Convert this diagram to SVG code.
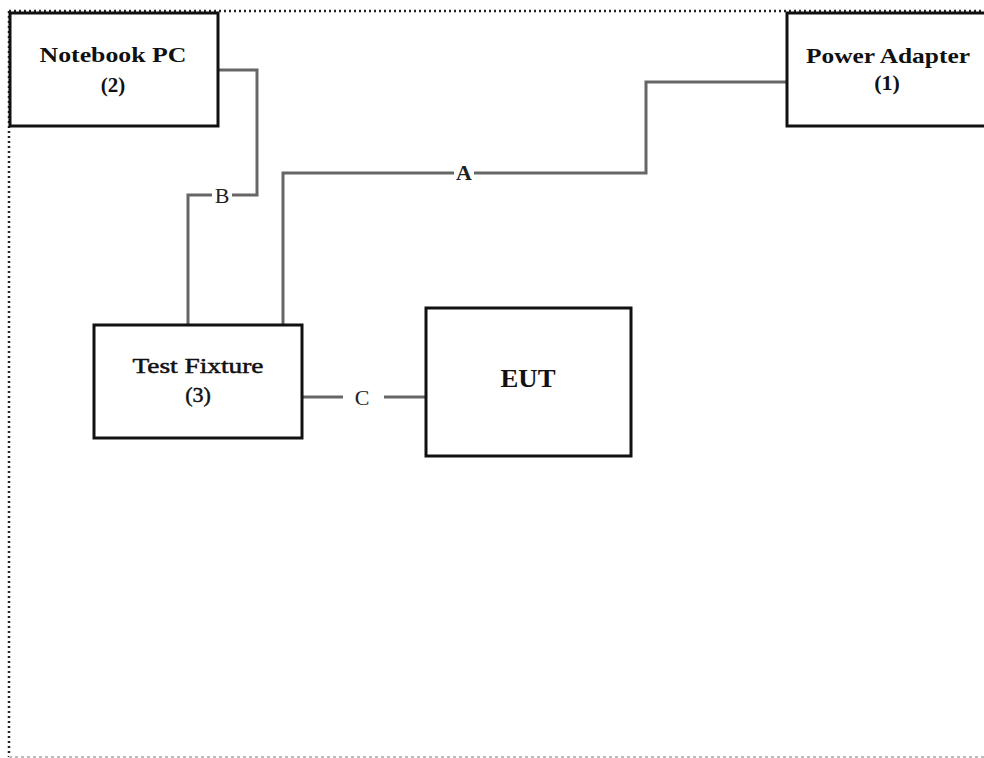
<svg xmlns="http://www.w3.org/2000/svg" width="984" height="758" viewBox="0 0 984 758">
<style>
.box{fill:#fff;stroke:#111;stroke-width:3}
.wire{fill:none;stroke:#666;stroke-width:3}
.t{font-family:"Liberation Serif","Times New Roman",serif;fill:#111;text-anchor:middle}
.b{font-weight:bold}
.lbl{font-family:"Liberation Serif","Times New Roman",serif;fill:#222;text-anchor:middle;font-size:22px}
.frame{fill:none;stroke:#222;stroke-width:2.5;stroke-dasharray:2 3}
</style>
<rect width="984" height="758" fill="#fff"/>
<g id="frame">
<line class="frame" x1="9" y1="11" x2="984" y2="11"/>
<line class="frame" x1="9" y1="11" x2="9" y2="757"/>
<line x1="9" y1="757" x2="984" y2="757" stroke="#bbb" stroke-width="2" stroke-dasharray="3 3"/>
</g>
<g id="connectors">
<polyline class="wire" points="787,82 646,82 646,173 474,173"/>
<polyline class="wire" points="454,173 283,173 283,325"/>
<polyline class="wire" points="218,70 257,70 257,195 232,195"/>
<polyline class="wire" points="212,195 188,195 188,325"/>
<line class="wire" x1="302" y1="397" x2="343" y2="397"/>
<line class="wire" x1="384" y1="397" x2="426" y2="397"/>
<text class="lbl b" x="464" y="180">A</text>
<text class="lbl" x="222" y="203">B</text>
<text class="lbl" x="362" y="405">C</text>
</g>
<g id="notebook">
<rect class="box" x="10" y="13" width="208" height="113"/>
<text class="t b" x="113" y="62" font-size="21" textLength="147" lengthAdjust="spacingAndGlyphs">Notebook PC</text>
<text class="t b" x="113" y="92" font-size="21">(2)</text>
</g>
<g id="power">
<rect class="box" x="787" y="13" width="210" height="113"/>
<text class="t b" x="888" y="63" font-size="22" textLength="164" lengthAdjust="spacingAndGlyphs">Power Adapter</text>
<text class="t b" x="887" y="90" font-size="22">(1)</text>
</g>
<g id="fixture">
<rect class="box" x="94" y="325" width="208" height="113"/>
<text class="t" x="198" y="373" font-size="22" stroke="#111" stroke-width="0.5" textLength="131" lengthAdjust="spacingAndGlyphs">Test Fixture</text>
<text class="t" x="198" y="402" font-size="22" stroke="#111" stroke-width="0.5">(3)</text>
</g>
<g id="eut">
<rect class="box" x="426" y="308" width="205" height="148"/>
<text class="t b" x="528" y="387" font-size="26" textLength="55" lengthAdjust="spacingAndGlyphs">EUT</text>
</g>
</svg>
